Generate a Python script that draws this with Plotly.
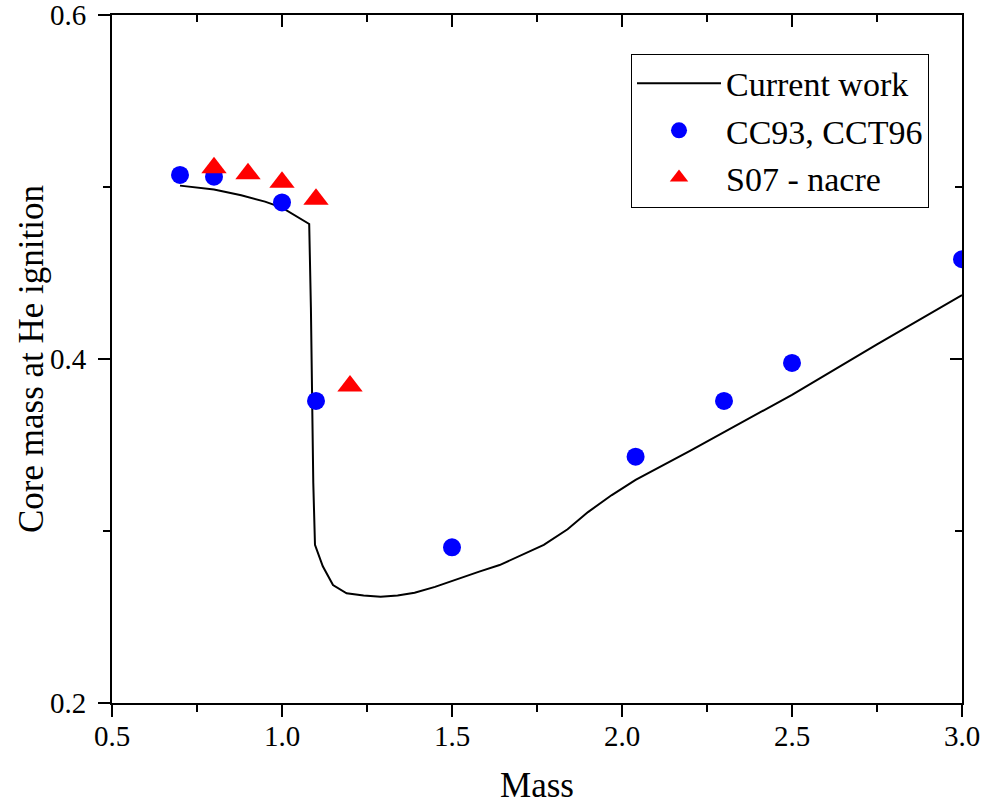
import plotly.graph_objects as go

# Current work (line)
line_mass = [0.70, 0.80, 0.88, 0.95, 1.00, 1.05, 1.08, 1.085, 1.088, 1.092, 1.097,
             1.12, 1.15, 1.19, 1.24, 1.29, 1.34, 1.39, 1.45, 1.52, 1.58, 1.64, 1.70,
             1.77, 1.84, 1.90, 1.97, 2.04, 2.20, 2.35, 2.50, 2.75, 3.00]
line_core = [0.5008, 0.4985, 0.4952, 0.4915, 0.4880, 0.4820, 0.4785, 0.4300, 0.3860, 0.3280, 0.2920,
             0.2795, 0.2686, 0.2638, 0.2625, 0.2618, 0.2625, 0.2641, 0.2675, 0.2725, 0.2764, 0.2802, 0.2855,
             0.2919, 0.3010, 0.3110, 0.3209, 0.3297, 0.3466, 0.3629, 0.3792, 0.4085, 0.4372]

# CC93, CCT96 (circles)
cc_mass = [0.7, 0.8, 1.0, 1.1, 1.5, 2.04, 2.3, 2.5, 3.0]
cc_core = [0.507, 0.506, 0.491, 0.3756, 0.2905, 0.3432, 0.3756, 0.3977, 0.458]

# S07 - nacre (triangles)
s07_mass = [0.8, 0.9, 1.0, 1.1, 1.2]
s07_core = [0.5112, 0.5077, 0.5027, 0.4929, 0.3843]

x_range = [0.5, 3.0]
y_range = [0.2, 0.6]
x_ticks = [0.5, 1.0, 1.5, 2.0, 2.5, 3.0]
x_ticklabels = ["0.5", "1.0", "1.5", "2.0", "2.5", "3.0"]
y_ticks = [0.2, 0.4, 0.6]
y_ticklabels = ["0.2", "0.4", "0.6"]

FONT = "Liberation Serif"

fig = go.Figure()
fig.add_trace(go.Scatter(x=line_mass, y=line_core, mode="lines", name="Current work",
                         line=dict(color="black", width=2)))
fig.add_trace(go.Scatter(x=cc_mass, y=cc_core, mode="markers", name="CC93, CCT96",
                         marker=dict(color="#0000FF", size=18, symbol="circle")))
fig.add_trace(go.Scatter(x=s07_mass, y=s07_core, mode="markers", name="S07 - nacre",
                         marker=dict(color="#FF0000", size=22, symbol="triangle-up")))
# invisible trace to activate the mirrored (top/right) axes
fig.add_trace(go.Scatter(x=[x_range[0]], y=[y_range[0]], xaxis="x2", yaxis="y2",
                         mode="markers", marker=dict(opacity=0), showlegend=False, hoverinfo="skip"))

common = dict(showgrid=False, zeroline=False, showline=True, linecolor="black", linewidth=2,
              tickcolor="black", tickwidth=2, ticklen=12, automargin=False)

fig.update_layout(
    width=984, height=805,
    margin=dict(l=112, r=22, t=15, b=102),
    paper_bgcolor="white", plot_bgcolor="white",
    font=dict(family=FONT, color="black"),
    xaxis=dict(range=x_range, tickvals=x_ticks, ticktext=x_ticklabels, ticks="outside",
               tickfont=dict(size=29, family=FONT), ticklabelstandoff=-6, ticklabeloverflow="allow",
               minor=dict(dtick=0.25, tick0=0.5, ticks="outside", ticklen=7, tickwidth=2, tickcolor="black"),
               title=dict(text="Mass", font=dict(size=35, family=FONT), standoff=32),
               **common),
    yaxis=dict(range=y_range, tickvals=y_ticks, ticktext=y_ticklabels, ticks="outside",
               tickfont=dict(size=29, family=FONT), ticklabelstandoff=6, ticklabeloverflow="allow",
               minor=dict(dtick=0.1, tick0=0.2, ticks="outside", ticklen=7, tickwidth=2, tickcolor="black"),
               **common),
    xaxis2=dict(range=x_range, overlaying="x", side="top", matches="x", tickvals=x_ticks,
                ticks="inside", showticklabels=False,
                minor=dict(dtick=0.25, tick0=0.5, ticks="inside", ticklen=7, tickwidth=2, tickcolor="black"),
                **common),
    yaxis2=dict(range=y_range, overlaying="y", side="right", matches="y", tickvals=y_ticks,
                ticks="inside", showticklabels=False,
                minor=dict(dtick=0.1, tick0=0.2, ticks="inside", ticklen=7, tickwidth=2, tickcolor="black"),
                **common),
    legend=dict(x=0.6106, y=0.944, xanchor="left", yanchor="top",
                bgcolor="white", bordercolor="black", borderwidth=1,
                font=dict(size=34, family=FONT), itemwidth=84, tracegroupgap=0),
    annotations=[dict(text="Core mass at He ignition", xref="paper", yref="paper",
                      x=-(112 - 31) / 850, y=0.5, xanchor="center", yanchor="middle",
                      textangle=-90, showarrow=False, font=dict(size=35, family=FONT, color="black"))],
    showlegend=True,
)

fig.write_html("out.html")
